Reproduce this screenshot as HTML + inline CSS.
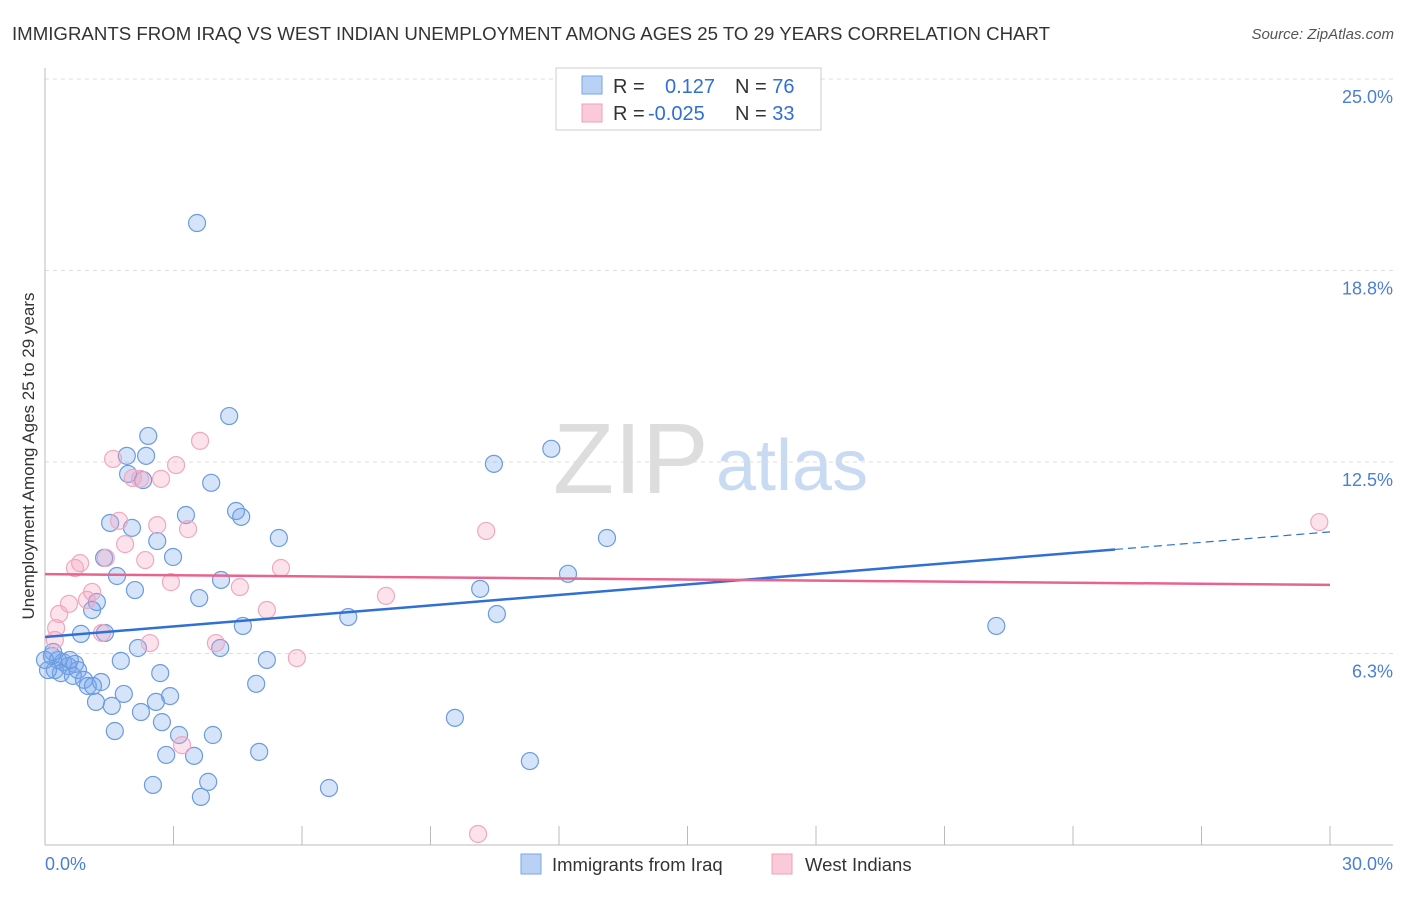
<!DOCTYPE html>
<html><head><meta charset="utf-8"><style>
body{margin:0;background:#fff;font-family:"Liberation Sans",sans-serif;}
svg text{font-family:"Liberation Sans",sans-serif;}
</style></head><body>
<svg id="chart" width="1406" height="892">
<text x="12" y="40" font-size="18" fill="#333" textLength="1038" lengthAdjust="spacingAndGlyphs">IMMIGRANTS FROM IRAQ VS WEST INDIAN UNEMPLOYMENT AMONG AGES 25 TO 29 YEARS CORRELATION CHART</text>
<text x="1394" y="39" font-size="15" fill="#555" font-style="italic" text-anchor="end">Source: ZipAtlas.com</text>
<g>
<text x="553" y="493" font-size="100" fill="#ddd" font-family="Liberation Serif">ZIP</text>
<text x="716" y="490" font-size="72" fill="#c9daf3">atlas</text>
</g>
<g id="grid"></g><g id="axes"></g><g id="marks"></g><g id="lines"></g>
<text transform="translate(34,456) rotate(-90)" font-size="17" fill="#333" text-anchor="middle">Unemployment Among Ages 25 to 29 years</text>
<text x="45" y="870" font-size="18" fill="#4a7fd4">0.0%</text>
<text x="1393" y="870" font-size="18" fill="#4a7fd4" text-anchor="end">30.0%</text>
<g>
<rect x="556" y="68" width="265" height="62" fill="#fff" stroke="#ccc"/>
<rect x="582" y="76" width="20" height="18" fill="#b9d1f5" stroke="#7aa5e6"/>
<rect x="582" y="104" width="20" height="18" fill="#fbcad8" stroke="#f0a0b8"/>
<text x="613" y="93" font-size="20" fill="#333">R = <tspan fill="#2f6fd6" x="665">0.127</tspan><tspan fill="#333" x="735">N = </tspan><tspan fill="#2f6fd6">76</tspan></text>
<text x="613" y="120" font-size="20" fill="#333">R = <tspan fill="#2f6fd6" x="648">-0.025</tspan><tspan fill="#333" x="735">N = </tspan><tspan fill="#2f6fd6">33</tspan></text>
</g>
<g>
<rect x="521" y="854" width="20" height="20" fill="#b9d1f5" stroke="#7aa5e6"/>
<text x="552" y="871" font-size="18.5" fill="#333">Immigrants from Iraq</text>
<text x="805" y="871" font-size="18.5" fill="#333">West Indians</text>
<rect x="772" y="854" width="20" height="20" fill="#fbcad8" stroke="#f0a0b8"/>
</g>
</svg>
<script>
const yTicks=[25,18.75,12.5,6.25];
const yTickLabels=["25.0%","18.8%","12.5%","6.3%"];
const xTicks=[0,3,6,9,12,15,18,21,24,27,30];
const iraqX=[3.55,4.30,2.41,2.36,1.91,1.94,2.29,3.88,1.52,2.03,3.29,4.46,4.58,2.62,5.46,2.99,1.68,1.38,2.10,4.11,3.60,1.21,1.10,4.62,1.40,0.84,2.17,4.09,1.77,0.16,0.30,0.42,0.54,0.70,0.77,0.23,0.37,0.65,0.91,1.00,1.31,1.12,2.69,1.84,2.92,2.59,1.19,1.56,2.24,2.73,1.63,3.13,3.92,2.83,3.48,5.00,3.81,2.52,3.64,6.63,5.18,4.93,7.08,10.48,11.82,10.16,10.55,12.21,13.12,9.57,11.32,22.21,0.19,0.07,0.0,0.58];
const iraqY=[20.30,14.00,13.35,12.70,12.70,12.11,11.91,11.82,10.51,10.35,10.77,10.90,10.71,9.92,10.02,9.40,8.78,9.37,8.32,8.65,8.06,7.93,7.67,7.15,6.92,6.89,6.43,6.43,6.01,6.17,6.04,5.97,5.84,5.91,5.71,5.71,5.61,5.52,5.39,5.19,5.32,5.19,5.61,4.93,4.86,4.67,4.67,4.54,4.34,4.01,3.72,3.59,3.59,2.94,2.91,3.04,2.06,1.96,1.57,1.86,6.04,5.26,7.44,12.44,12.93,8.36,7.54,8.85,10.02,4.15,2.74,7.15,6.30,5.71,6.04,6.04];
const wiX=[1.59,2.05,2.22,2.71,3.06,3.62,1.73,2.62,3.34,1.87,1.42,2.34,0.82,0.70,2.94,5.51,4.55,1.10,0.98,0.56,0.33,5.18,7.96,10.30,29.75,0.26,1.33,2.45,0.23,3.99,5.88,3.20,10.11];
const wiY=[12.60,11.98,11.95,11.95,12.40,13.19,10.58,10.44,10.31,9.82,9.37,9.30,9.20,9.04,8.58,9.04,8.42,8.26,8.00,7.87,7.54,7.67,8.13,10.25,10.54,7.08,6.92,6.59,6.69,6.59,6.10,3.26,0.36];
const iraqTrend=[6.79,10.22];
const iraqSolidEnd=[24.98];
const wiTrend=[8.84,8.49];

const NS="http://www.w3.org/2000/svg";
const sx=v=>45+v*(1285/30);
const sy=v=>845-v*30.64;
function mk(parent,tag,attrs){const e=document.createElementNS(NS,tag);for(const k in attrs)e.setAttribute(k,attrs[k]);document.getElementById(parent).appendChild(e);return e;}
yTicks.forEach((t,i)=>{
  const l=mk('grid','line',{x1:45,x2:1393,y1:sy(t),y2:sy(t),stroke:'#ddd','stroke-dasharray':'4,4'});
  
  
  const tx=mk('grid','text',{x:1393,y:sy(t)+24,'font-size':18,fill:'#4a7fd4','text-anchor':'end'});
  tx.textContent=yTickLabels[i];
  
  
});
let a=mk('axes','line',{x1:45,x2:45,y1:68,y2:845,stroke:'#bbb'});


a=mk('axes','line',{x1:45,x2:1393,y1:845,y2:845,stroke:'#bbb'});


xTicks.forEach(t=>{
  const l=mk('axes','line',{x1:sx(t),x2:sx(t),y1:826,y2:845,stroke:'#bbb'});
  
  
});
iraqX.forEach((v,i)=>{
  const c=mk('marks','circle',{cx:sx(v),cy:sy(iraqY[i]),r:8.5,fill:'rgba(120,165,235,0.3)',stroke:'#6b9be0','stroke-width':1.2});
  
  
});
wiX.forEach((v,i)=>{
  const c=mk('marks','circle',{cx:sx(v),cy:sy(wiY[i]),r:8.5,fill:'rgba(245,160,190,0.3)',stroke:'#f0a8c0','stroke-width':1.2});
  
  
});
const iy=x=>iraqTrend[0]+(iraqTrend[1]-iraqTrend[0])*x/30;
let t=mk('lines','line',{x1:sx(0),y1:sy(iy(0)),x2:sx(iraqSolidEnd[0]),y2:sy(iy(iraqSolidEnd[0])),stroke:'#2f6fd6','stroke-width':2.5});


t=mk('lines','line',{x1:sx(iraqSolidEnd[0]),y1:sy(iy(iraqSolidEnd[0])),x2:sx(30),y2:sy(iy(30)),stroke:'#2f6fd6','stroke-width':1.2,'stroke-dasharray':'8,5'});


t=mk('lines','line',{x1:sx(0),y1:sy(wiTrend[0]),x2:sx(30),y2:sy(wiTrend[1]),stroke:'#e8648e','stroke-width':2.5});


</script>
</body></html>
